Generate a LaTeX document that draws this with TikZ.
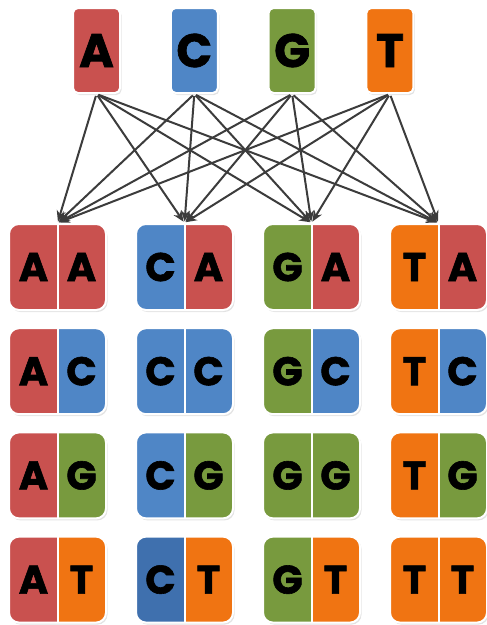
\documentclass[tikz,border=0pt]{standalone}
\usepackage{fontspec}
\usetikzlibrary{arrows.meta,shadows}
\newfontfamily\basefont{Poppins}[BoldFeatures={FakeBold=1.5}]
\definecolor{cA}{HTML}{C9514F}
\definecolor{cC}{HTML}{4F86C6}
\definecolor{cCdark}{HTML}{3F70AE}
\definecolor{cG}{HTML}{789A3E}
\definecolor{cT}{HTML}{F07412}
\definecolor{linegray}{HTML}{3C3C3C}
\tikzset{
  shade/.style={drop shadow={opacity=0.22, shadow xshift=1.5pt, shadow yshift=-2pt}},
  base/.style={shade, draw=white, line width=2pt, rounded corners=5pt,
    minimum width=47pt, minimum height=85pt, inner sep=0pt,
    font=\basefont\bfseries\fontsize{47}{47}\selectfont},
  tile/.style={shade, draw=white, line width=2pt, rounded corners=10pt,
    minimum width=97pt, minimum height=86pt, inner sep=0pt},
  halves/.style 2 args={path picture={
    \fill[#1, sharp corners] (path picture bounding box.south west) rectangle (path picture bounding box.north);
    \fill[#2, sharp corners] (path picture bounding box.south) rectangle (path picture bounding box.north east);
    \draw[white, line width=2pt, sharp corners] (path picture bounding box.south) -- (path picture bounding box.north);}},
  letter/.style={inner sep=0pt, font=\basefont\bfseries\fontsize{40}{40}\selectfont},
  arrow/.style={draw=linegray, line width=2pt, -{Stealth[length=11pt,width=9pt]},
    shorten <=2pt, shorten >=1.5pt}
}
\begin{document}
\begin{tikzpicture}[x=1pt, y=-1pt]
  \useasboundingbox (0,0) rectangle (487,625);
  % single bases
  \foreach \a/\ca [count=\i from 0] in {A/cA, C/cC, G/cG, T/cT}
    \node[base, fill=\ca] (t\a) at (96.5+97.8*\i, 50.5) {\a};
  % pairs, first base by column, second base by row
  \foreach \a/\ca [count=\i from 0] in {A/cA, C/cC, G/cG, T/cT}
    \foreach \b/\cb [count=\j from 0] in {A/cA, C/cC, G/cG, T/cT} {
      \def\lc{\ca}
      \ifnum\i=1 \ifnum\j=3 \def\lc{cCdark}\fi\fi
      \node[tile, halves={\lc}{\cb}] (p\a\b) at (57.5+127*\i, 267+104.2*\j) {};
      \node[letter] (p\a\b-1) at ([xshift=-24pt]p\a\b.center) {\a};
      \node[letter] (p\a\b-2) at ([xshift=24pt]p\a\b.center) {\b};
    }
  % every base to every column
  \foreach \a in {A, C, G, T}
    \foreach \b in {A, C, G, T}
      \draw[arrow] (t\a.south) -- (p\b A.north);
\end{tikzpicture}
\end{document}
